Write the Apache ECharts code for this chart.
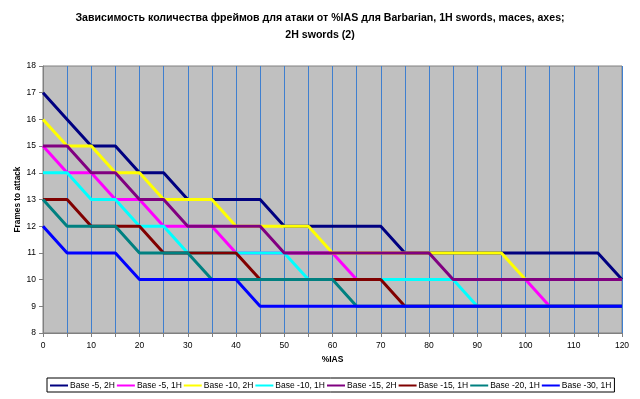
<!DOCTYPE html>
<html><head><meta charset="utf-8">
<script src="https://cdn.jsdelivr.net/npm/echarts@6/dist/echarts.min.js"></script>
<style>html,body{margin:0;padding:0;background:#fff}#c{width:640px;height:399px}</style>
</head><body><div id="c"></div>
<script>
const ias = [0,5,10,15,20,25,30,35,40,45,50,55,60,65,70,75,80,85,90,95,100,105,110,115,120];
const seriesNames = ['Base -5, 2H','Base -5, 1H','Base -10, 2H','Base -10, 1H','Base -15, 2H','Base -15, 1H','Base -20, 1H','Base -30, 1H'];
const base5_2H  = [17,16,15,15,14,14,13,13,13,13,12,12,12,12,12,11,11,11,11,11,11,11,11,11,10];
const base5_1H  = [15,14,14,13,13,12,12,12,11,11,11,11,11,10,10,10,10,10,10,10,10,9,9,9,9];
const base10_2H = [16,15,15,14,14,13,13,13,12,12,12,12,11,11,11,11,11,11,11,11,10,10,10,10,10];
const base10_1H = [14,14,13,13,12,12,11,11,11,11,11,10,10,10,10,10,10,10,9,9,9,9,9,9,9];
const base15_2H = [15,15,14,14,13,13,12,12,12,12,11,11,11,11,11,11,11,10,10,10,10,10,10,10,10];
const base15_1H = [13,13,12,12,12,11,11,11,11,10,10,10,10,10,10,9,9,9,9,9,9,9,9,9,9];
const base20_1H = [13,12,12,12,11,11,11,10,10,10,10,10,10,9,9,9,9,9,9,9,9,9,9,9,9];
const base30_1H = [12,11,11,11,10,10,10,10,10,9,9,9,9,9,9,9,9,9,9,9,9,9,9,9,9];
const allValues = [base5_2H,base5_1H,base10_2H,base10_1H,base15_2H,base15_1H,base20_1H,base30_1H];
const colors = ['#000080','#FF00FF','#FFFF00','#00FFFF','#800080','#800000','#008080','#0000FF'];
const titleText = 'Зависимость количества фреймов для атаки от %IAS для Barbarian, 1H swords, maces, axes;\n2H swords (2)';

const chart = echarts.init(document.getElementById('c'), null, {renderer:'canvas'});
const font = 'Arial, "Liberation Sans", sans-serif';
chart.setOption({
  backgroundColor:'#ffffff',
  animation:false,
  title:{text:titleText,left:'center',top:5,padding:5,textStyle:{fontFamily:font,fontSize:10.6,fontWeight:'bold',color:'#000',lineHeight:17}},
  grid:{left:43,right:18,top:66,bottom:66,outerBoundsMode:'none',containLabel:false,
    backgroundColor:'#C0C0C0',show:true,borderWidth:1,borderColor:'#808080'},
  legend:{
    data:seriesNames,top:378,left:47,
    icon:'rect',itemWidth:18,itemHeight:2,itemGap:2,
    borderColor:'#000',borderWidth:1,padding:[3,3,2,3],
    textStyle:{fontFamily:font,fontSize:8.5,color:'#000',padding:[0,0,0,-3]}
  },
  xAxis:{
    type:'value',min:0,max:120,interval:5,
    name:'%IAS',nameLocation:'middle',nameGap:21,
    nameTextStyle:{fontFamily:font,fontSize:8.5,fontWeight:'bold',color:'#000'},
    axisLine:{show:true,lineStyle:{color:'#808080'}},
    axisTick:{show:true,length:4,lineStyle:{color:'#808080'}},
    axisLabel:{fontFamily:font,fontSize:8.5,color:'#000',margin:8,
      formatter:function(v){return v%10===0?String(v):'';}},
    splitLine:{show:true,lineStyle:{color:'#3f7fcf',width:1}}
  },
  yAxis:{
    type:'value',min:8,max:18,interval:1,
    name:'Frames to attack',nameLocation:'middle',nameGap:21,nameMoveOverlap:false,
    nameTextStyle:{fontFamily:font,fontSize:8.3,fontWeight:'bold',color:'#000'},
    axisLine:{show:true,lineStyle:{color:'#808080'}},
    axisTick:{show:true,length:4,lineStyle:{color:'#808080'}},
    axisLabel:{fontFamily:font,fontSize:8.5,color:'#000',margin:7},
    splitLine:{show:false}
  },
  series: seriesNames.map(function(n,i){
    return {name:n,type:'line',data:ias.map(function(x,j){return [x,allValues[i][j]];}),
      symbol:'none',color:colors[i],lineStyle:{width:3,color:colors[i]},z:2+i};
  })
});
</script></body></html>
